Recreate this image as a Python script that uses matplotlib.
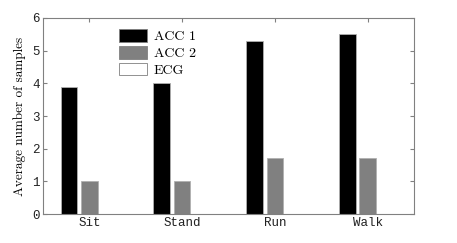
import numpy as np
import matplotlib.pyplot as plt
from matplotlib.patches import Patch

activities = ['Sit', 'Stand', 'Run', 'Walk']
acc1 = [3.9, 4.0, 5.3, 5.5]
acc2 = [1.0, 1.0, 1.7, 1.7]
ecg = [0.0, 0.0, 0.0, 0.0]

series = [('ACC 1', acc1, 'black'), ('ACC 2', acc2, '#808080'), ('ECG', ecg, 'white')]

plt.rcParams['axes.formatter.use_mathtext'] = True

fig = plt.figure(figsize=(4.57, 2.43), dpi=100)
ax = fig.add_axes([43 / 457, 29 / 243, 371 / 457, 196 / 243])

x = np.arange(1, len(activities) + 1)
width = 0.18
offsets = [-0.22, 0.0, 0.22]
for (name, vals, col), off in zip(series, offsets):
    ax.bar(x + off, vals, width, color=col, edgecolor='#b0b0b0', linewidth=0.6, label=name)

ax.set_xlim(0.5, 4.5)
ax.set_ylim(0, 6)
ax.set_xticks(x)
ax.set_xticklabels(activities, family='Liberation Mono', fontsize=9, color='#222222')
ax.set_yticks(range(7))
ax.set_yticklabels([str(v) for v in range(7)], family='Liberation Mono', fontsize=9, color='#222222')
ax.tick_params(direction='in', top=True, right=True, length=3, color='#808080', pad=2.5)
for s in ax.spines.values():
    s.set_color('#808080')
    s.set_linewidth(0.8)

ax.set_ylabel('Average number of samples', family='cmr10', fontsize=9.5, labelpad=4)

handles = [Patch(facecolor=c, edgecolor='#808080', linewidth=0.6) for _, _, c in series]
ax.legend(handles, [n for n, _, _ in series], loc='upper left', bbox_to_anchor=(0.19, 0.97),
          frameon=False, prop={'family': 'cmr10', 'size': 10}, handlelength=2.0, handleheight=1.0,
          labelspacing=0.2, handletextpad=0.5, borderaxespad=0)

fig.savefig('out.png', dpi=100)
